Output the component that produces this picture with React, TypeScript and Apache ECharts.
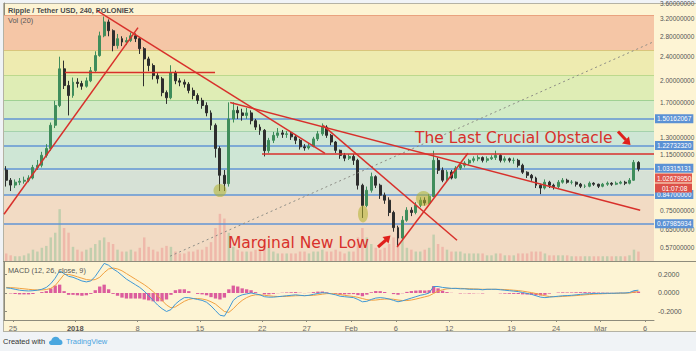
import React, { useEffect, useRef } from "react";
import * as echarts from "echarts";

// ---------- data (12-hour slots from 24 Dec 2017) ----------
const SLOT_COUNT = 146;
const slots = Array.from({ length: SLOT_COUNT }, (_, i) => String(i));

// [open, close, low, high]
const candles: number[][] = [
  [1.02,0.944,0.90,1.05],[0.944,0.91,0.87,0.96],[0.91,0.93,0.89,0.95],[0.93,0.937,0.91,0.96],[0.937,0.944,0.92,0.97],
  [0.944,0.96,0.93,0.98],[0.96,1.04,0.95,1.06],[1.04,1.057,1.02,1.10],[1.057,1.14,1.04,1.17],[1.14,1.20,1.12,1.24],
  [1.20,1.43,1.18,1.46],[1.43,1.66,1.40,1.72],[1.66,2.19,1.64,2.40],[2.19,1.93,1.88,2.33],[1.93,1.79,1.54,2.00],
  [1.79,1.98,1.76,2.05],[1.98,1.96,1.90,2.04],[1.96,1.92,1.87,2.00],[1.92,2.00,1.90,2.05],[2.00,2.16,1.98,2.22],
  [2.16,2.42,2.14,2.50],[2.42,2.81,2.40,2.90],[2.81,3.12,2.78,3.25],[3.12,2.92,2.80,3.18],[2.92,2.61,2.50,2.95],
  [2.61,2.75,2.55,2.85],[2.75,2.68,2.60,2.80],[2.68,2.71,2.62,2.78],[2.71,2.81,2.68,2.88],[2.81,2.75,2.68,2.86],
  [2.75,2.55,2.45,2.78],[2.55,2.36,1.92,2.58],[2.36,2.245,2.15,2.40],[2.245,2.08,2.02,2.28],[2.08,2.03,1.96,2.12],
  [2.03,1.83,1.78,2.06],[1.83,1.76,1.68,1.86],[1.76,2.13,1.74,2.25],[2.13,2.00,1.95,2.16],[2.00,1.98,1.92,2.04],
  [1.98,1.95,1.90,2.02],[1.95,1.86,1.82,1.98],[1.86,1.79,1.74,1.90],[1.79,1.725,1.68,1.82],[1.725,1.66,1.62,1.76],
  [1.66,1.57,1.53,1.70],[1.57,1.43,1.38,1.60],[1.43,1.20,1.12,1.45],[1.20,0.98,0.87,1.22],[0.98,0.92,0.87,1.02],
  [0.92,1.50,0.90,1.70],[1.50,1.60,1.46,1.70],[1.60,1.57,1.50,1.65],[1.57,1.54,1.48,1.62],[1.54,1.57,1.50,1.63],
  [1.57,1.48,1.44,1.60],[1.48,1.41,1.38,1.50],[1.41,1.376,1.33,1.44],[1.376,1.18,1.13,1.39],[1.18,1.276,1.16,1.30],
  [1.276,1.325,1.25,1.36],[1.325,1.35,1.30,1.40],[1.35,1.335,1.30,1.38],[1.335,1.34,1.30,1.37],[1.34,1.31,1.28,1.36],
  [1.31,1.276,1.24,1.33],[1.276,1.215,1.19,1.29],[1.215,1.205,1.18,1.24],[1.205,1.22,1.19,1.25],[1.22,1.29,1.21,1.31],
  [1.29,1.34,1.27,1.37],[1.34,1.41,1.32,1.45],[1.41,1.325,1.30,1.43],[1.325,1.26,1.23,1.34],[1.26,1.183,1.16,1.27],
  [1.183,1.139,1.11,1.19],[1.139,1.115,1.09,1.16],[1.115,1.13,1.10,1.15],[1.13,1.097,1.06,1.15],[1.097,0.909,0.88,1.11],
  [0.909,0.78,0.71,0.92],[0.78,0.875,0.77,0.90],[0.875,0.97,0.86,1.00],[0.97,0.909,0.89,0.98],[0.909,0.843,0.82,0.92],
  [0.843,0.812,0.79,0.86],[0.812,0.74,0.72,0.83],[0.74,0.66,0.64,0.75],[0.66,0.61,0.57,0.67],[0.61,0.698,0.60,0.72],
  [0.698,0.753,0.69,0.77],[0.753,0.74,0.72,0.77],[0.74,0.782,0.73,0.80],[0.782,0.812,0.77,0.83],[0.812,0.795,0.78,0.83],
  [0.795,0.835,0.79,0.85],[0.835,1.097,0.83,1.18],[1.097,1.018,0.99,1.12],[1.018,0.944,0.93,1.04],[0.944,1.005,0.935,1.02],
  [1.005,0.96,0.95,1.02],[0.96,1.035,0.955,1.05],[1.035,1.057,1.02,1.07],[1.057,1.075,1.04,1.09],[1.075,1.097,1.06,1.11],
  [1.097,1.11,1.08,1.13],[1.11,1.12,1.09,1.14],[1.12,1.097,1.08,1.13],[1.097,1.11,1.08,1.13],[1.11,1.12,1.10,1.14],
  [1.12,1.139,1.10,1.18],[1.139,1.097,1.08,1.15],[1.097,1.11,1.08,1.13],[1.11,1.097,1.08,1.12],[1.097,1.097,1.07,1.12],
  [1.097,1.057,1.04,1.11],[1.057,1.003,0.99,1.07],[1.003,0.98,0.96,1.01],[0.98,0.96,0.94,0.99],[0.96,0.909,0.89,0.97],
  [0.909,0.89,0.85,0.92],[0.89,0.93,0.88,0.95],[0.93,0.909,0.89,0.94],[0.909,0.90,0.88,0.92],[0.90,0.93,0.89,0.945],
  [0.93,0.944,0.92,0.96],[0.944,0.93,0.92,0.955],[0.93,0.93,0.915,0.945],[0.93,0.916,0.90,0.935],[0.916,0.902,0.89,0.925],
  [0.902,0.902,0.89,0.915],[0.902,0.923,0.895,0.935],[0.923,0.916,0.905,0.93],[0.916,0.902,0.89,0.92],[0.902,0.916,0.895,0.925],
  [0.916,0.923,0.905,0.935],[0.923,0.916,0.905,0.93],[0.916,0.923,0.91,0.935],[0.923,0.93,0.915,0.94],[0.93,0.923,0.91,0.94],
  [0.923,0.944,0.915,0.96],[0.944,1.08,0.94,1.10],[1.08,1.027,1.01,1.09],
];

const volumes = [
  8,6,5,5,6,8,12,10,14,16, 25,30,55,35,30,15,12,10,12,14, 18,22,25,20,18,12,10,10,12,10,
  14,25,15,12,10,14,16,15,10,8, 8,10,10,12,12,15,20,35,50,45, 30,15,12,10,10,10,12,12,22,14,
  10,8,8,8,8,8,10,10,8,10, 10,12,10,10,12,10,8,10,10,25, 35,25,18,14,12,14,18,25,30,22,
  14,12,10,10,12,14,28,18,15,12, 10,10,10,8,8,8,8,8,6,6, 8,8,6,6,6,8,8,8,10,10,
  10,8,6,6,6,6,6,5,5,5, 5,5,5,5,5,5,5,5,5,5, 6,12,10,
];

const macdLine = [
  0.055,0.05,0.04,0.03,0.025,0.022,0.025,0.03,0.04,0.06, 0.1,0.16,0.24,0.21,0.18,0.17,0.15,0.13,0.12,0.13,
  0.18,0.25,0.32,0.30,0.26,0.23,0.19,0.15,0.12,0.09, 0.06,0.02,-0.03,-0.08,-0.13,-0.17,-0.20,-0.18,-0.12,-0.08,
  -0.05,-0.05,-0.06,-0.07,-0.08,-0.10,-0.14,-0.19,-0.24,-0.25, -0.17,-0.08,-0.04,-0.02,-0.01,0.0,-0.01,-0.02,-0.04,-0.045,
  -0.045,-0.04,-0.035,-0.03,-0.025,-0.02,-0.025,-0.03,-0.025,-0.015, -0.005,0.003,0.0,-0.01,-0.02,-0.035,-0.04,-0.045,-0.05,-0.07,
  -0.095,-0.09,-0.07,-0.055,-0.05,-0.055,-0.065,-0.08,-0.095,-0.085, -0.07,-0.055,-0.04,-0.025,-0.015,0.0,0.07,0.07,0.06,0.055,
  0.05,0.05,0.045,0.045,0.04,0.04,0.04,0.035,0.04,0.04, 0.04,0.035,0.03,0.025,0.02,0.015,0.005,-0.005,-0.015,-0.03,
  -0.045,-0.05,-0.045,-0.04,-0.035,-0.03,-0.028,-0.025,-0.02,-0.015, -0.01,-0.008,-0.005,-0.005,-0.004,-0.003,-0.003,-0.002,0.0,0.0,
  0.005,0.025,0.03,
];

const signalLine = [
  0.06,0.058,0.055,0.05,0.045,0.04,0.035,0.033,0.033,0.037, 0.05,0.08,0.14,0.20,0.20,0.19,0.175,0.16,0.145,0.14,
  0.145,0.17,0.22,0.26,0.27,0.26,0.24,0.21,0.18,0.15, 0.12,0.09,0.055,0.015,-0.03,-0.08,-0.13,-0.16,-0.15,-0.12,
  -0.09,-0.07,-0.06,-0.06,-0.065,-0.075,-0.095,-0.12,-0.16,-0.20, -0.21,-0.17,-0.12,-0.08,-0.05,-0.03,-0.02,-0.02,-0.025,-0.03,
  -0.035,-0.038,-0.038,-0.036,-0.033,-0.03,-0.028,-0.028,-0.027,-0.025, -0.02,-0.013,-0.007,-0.006,-0.01,-0.017,-0.025,-0.032,-0.038,-0.047,
  -0.06,-0.072,-0.078,-0.076,-0.07,-0.066,-0.065,-0.068,-0.076,-0.082, -0.082,-0.076,-0.066,-0.054,-0.042,-0.03,-0.005,0.02,0.035,0.045,
  0.048,0.05,0.05,0.048,0.046,0.044,0.042,0.04,0.04,0.04, 0.04,0.039,0.037,0.034,0.03,0.026,0.02,0.012,0.004,-0.006,
  -0.018,-0.03,-0.038,-0.04,-0.04,-0.037,-0.034,-0.031,-0.028,-0.024, -0.02,-0.016,-0.012,-0.01,-0.008,-0.006,-0.005,-0.004,-0.003,-0.002,
  0.0,0.008,0.015,
];

const histogram = [
  0.0,-0.005,-0.01,-0.015,-0.015,-0.015,-0.01,0.0,0.01,0.02, 0.05,0.08,0.09,0.02,-0.02,-0.02,-0.025,-0.03,-0.025,-0.01,
  0.03,0.07,0.09,0.04,-0.01,-0.03,-0.05,-0.06,-0.06,-0.06, -0.06,-0.07,-0.08,-0.09,-0.09,-0.09,-0.07,-0.02,0.03,0.04,
  0.04,0.02,0.0,-0.01,-0.015,-0.025,-0.045,-0.06,-0.07,-0.05, 0.04,0.08,0.07,0.05,0.04,0.03,0.01,0.0,-0.015,-0.015,
  -0.01,-0.002,0.003,0.006,0.008,0.01,0.003,-0.002,0.002,0.01, 0.015,0.016,0.007,-0.004,-0.01,-0.018,-0.015,-0.013,-0.012,-0.023,
  -0.035,-0.018,0.008,0.021,0.02,0.011,0.0,-0.012,-0.019,-0.003, 0.012,0.021,0.026,0.029,0.027,0.03,0.075,0.05,0.025,0.01,
  0.002,0.0,-0.005,-0.003,-0.006,-0.004,-0.002,-0.005,0.0,0.0, 0.0,-0.004,-0.007,-0.009,-0.01,-0.011,-0.015,-0.017,-0.019,-0.024,
  -0.027,-0.02,-0.007,0.0,0.005,0.007,0.006,0.006,0.008,0.009, 0.01,0.008,0.007,0.005,0.004,0.003,0.002,0.002,0.003,0.002,
  0.005,0.017,0.015,
];

const timeTickSlots = [2, 16, 30, 44, 58, 68, 78, 88, 100, 114, 124, 134, 144];
const timeTickLabels = ["25", "2018", "8", "15", "22", "27", "Feb", "6", "12", "19", "24", "Mar", "6"];
const priceTicks = [3.6, 3.2, 2.8, 2.4, 2.0, 1.7, 1.3, 1.15, 0.75, 0.65, 0.57];
const macdTicks = [0.2, 0, -0.2];
const horizontalLevels = [1.50162067, 1.2273232, 1.03315131, 0.847, 0.67985934];
const fibLevels = [3.27, 2.514, 2.082, 1.725, 1.366, 1.018, 0.843, 0.513];
const trendLines = [
  [[0, 0.73], [30.1, 2.99]],
  [[20.9, 3.4], [72.1, 1.157]],
  [[50.8, 1.699], [142.9, 0.753]],
  [[71.65, 1.429], [101.75, 0.6]],
  [[88.3, 0.57], [104.2, 1.157]],
];
const resistanceLines = [
  [[13.7, 2.13], [47.4, 2.13]],
  [[57.95, 1.15], [146, 1.15]],
];
const dottedLine = [[37.3, 0.532], [146, 2.69]];
const lastPrice = "1.02679950";
const countdown = "01:07:08";

// ---------- styles ----------
const fibColors = ["#f5c6a6", "#eeebb0", "#dfedb5", "#d3ebc6", "#cee6d5", "#d6e1d6", "#f2dbc4"];
const fibLineColors = ["#e9a27f", "#d9c57c", "#bcd98d", "#9fd194", "#a5d2ad"];
const upColor = "#3f8d5b";
const downColor = "#2e2e2e";
const red = "#d8302b";

const logoPath =
  "M3 12 C1.2 12 0 10.6 0 9 C0 7.3 1.3 6 3 6 C3.6 3 6 1 9 1 C11.5 1 13.6 2.6 14.3 4.8 C16.5 5 18 6.8 18 9 C18 10.7 16.6 12 15 12 Z";

export default function App() {
  const ref = useRef<HTMLDivElement>(null);

  useEffect(() => {
    if (!ref.current) return;
    try {
      echarts.graphic.registerShape("tvlogo", echarts.graphic.extendPath(logoPath, {}) as any);
    } catch (e) {}
    const chart = echarts.init(ref.current, null, { renderer: "svg" });

    const series: any[] = [];

    // fib bands + level lines
    series.push({
      type: "line",
      xAxisIndex: 1,
      yAxisIndex: 0,
      data: [],
      z: 1,
      silent: true,
      markArea: {
        silent: true,
        itemStyle: { opacity: 1 },
        data: fibColors.map((c, k) => [
          { yAxis: fibLevels[k], itemStyle: { color: c, opacity: 1 } },
          { yAxis: fibLevels[k + 1] },
        ]),
      },
      markLine: {
        silent: true,
        symbol: "none",
        precision: 8,
        label: { show: false },
        data: fibLineColors.map((c, k) => ({
          yAxis: fibLevels[k],
          lineStyle: { color: c, width: 1, type: "solid" },
        })),
      },
    });

    // price tick labels
    series.push({
      type: "line",
      xAxisIndex: 1,
      yAxisIndex: 0,
      data: [],
      z: 3,
      silent: true,
      markLine: {
        silent: true,
        symbol: "none",
        precision: 8,
        lineStyle: { color: "rgba(0,0,0,0)", width: 1 },
        label: {
          show: true,
          position: "end",
          distance: 6,
          color: "#555",
          fontSize: 6.5,
          fontFamily: "Liberation Sans",
          formatter: (p: any) => Number(p.value).toFixed(8),
        },
        data: priceTicks.map((v) => ({ yAxis: v })),
      },
    });

    // blue horizontal levels
    series.push({
      type: "line",
      xAxisIndex: 1,
      yAxisIndex: 0,
      data: [],
      z: 4,
      silent: true,
      markLine: {
        silent: true,
        symbol: "none",
        precision: 8,
        lineStyle: { color: "#6294d4", width: 1.6, type: "solid" },
        label: {
          show: true,
          position: "end",
          distance: 1,
          color: "#fff",
          backgroundColor: "#5b91d4",
          padding: [1, 2, 1, 2],
          fontSize: 6.5,
          fontFamily: "Liberation Sans",
          formatter: (p: any) => Number(p.value).toFixed(8),
        },
        data: horizontalLevels.map((v) => ({ yAxis: v })),
      },
    });

    // volume
    series.push({
      type: "bar",
      xAxisIndex: 2,
      yAxisIndex: 1,
      data: volumes,
      barWidth: "55%",
      z: 3,
      silent: true,
      itemStyle: {
        color: (p: any) =>
          candles[p.dataIndex] && candles[p.dataIndex][1] >= candles[p.dataIndex][0]
            ? "rgba(83,175,120,0.3)"
            : "rgba(230,80,90,0.25)",
      },
    });

    // candles
    series.push({
      type: "candlestick",
      xAxisIndex: 0,
      yAxisIndex: 0,
      data: candles,
      barWidth: "55%",
      z: 5,
      silent: true,
      itemStyle: {
        color: upColor,
        color0: downColor,
        borderColor: upColor,
        borderColor0: downColor,
        borderWidth: 1,
      },
    });

    // dotted line
    series.push({
      type: "line",
      xAxisIndex: 1,
      yAxisIndex: 0,
      data: dottedLine,
      symbol: "none",
      z: 6,
      silent: true,
      lineStyle: { color: "#8d8d86", width: 1, type: [2, 3] },
    });

    // trend & resistance lines
    [...trendLines, ...resistanceLines].forEach((ln) => {
      series.push({
        type: "line",
        xAxisIndex: 1,
        yAxisIndex: 0,
        data: ln,
        symbol: "none",
        z: 8,
        silent: true,
        lineStyle: { color: red, width: 1.5 },
      });
    });

    // MACD
    series.push({
      type: "bar",
      xAxisIndex: 3,
      yAxisIndex: 2,
      data: histogram,
      barWidth: "75%",
      silent: true,
      itemStyle: { color: "#dc5c9d" },
    });
    series.push({
      type: "line",
      xAxisIndex: 3,
      yAxisIndex: 2,
      data: signalLine,
      symbol: "none",
      silent: true,
      lineStyle: { color: "#f0a040", width: 1 },
    });
    series.push({
      type: "line",
      xAxisIndex: 3,
      yAxisIndex: 2,
      data: macdLine,
      symbol: "none",
      silent: true,
      lineStyle: { color: "#3f98d6", width: 1 },
    });

    const axisColor = "#8e8c7c";

    const option: any = {
      animation: false,
      backgroundColor: "transparent",
      grid: [
        { left: 4, top: 3, width: 650, height: 258 },
        { left: 4, top: 195, width: 650, height: 66 },
        { left: 4, top: 262, width: 650, height: 58 },
      ],
      xAxis: [
        { type: "category", gridIndex: 0, data: slots, show: false, position: "bottom" },
        { type: "value", gridIndex: 0, min: 0, max: SLOT_COUNT, show: false, position: "top" },
        { type: "category", gridIndex: 1, data: slots, show: false },
        { type: "category", gridIndex: 2, data: slots, show: false, position: "top" },
        {
          type: "value",
          gridIndex: 2,
          position: "bottom",
          min: 0,
          max: SLOT_COUNT,
          axisLine: { show: true, lineStyle: { color: axisColor } },
          axisTick: { show: true, customValues: timeTickSlots, length: 2, lineStyle: { color: axisColor } },
          splitLine: { show: false },
          axisLabel: {
            customValues: timeTickSlots,
            margin: 4,
            fontSize: 7.5,
            color: "#6a6a6a",
            fontFamily: "Liberation Sans",
            formatter: (v: number) => {
              const k = timeTickSlots.indexOf(Math.round(v));
              const t = k >= 0 ? timeTickLabels[k] : "";
              return t === "2018" ? "{b|" + t + "}" : t;
            },
            rich: { b: { fontWeight: "bold", fontSize: 7.5, color: "#555", fontFamily: "Liberation Sans" } },
          },
        },
      ],
      yAxis: [
        {
          type: "log",
          gridIndex: 0,
          min: 0.513,
          max: 3.6,
          position: "right",
          axisLine: { show: true, lineStyle: { color: axisColor } },
          axisTick: { show: false },
          axisLabel: { show: false },
          splitLine: { show: false },
        },
        { type: "value", gridIndex: 1, min: 0, max: 70, show: false },
        {
          type: "value",
          gridIndex: 2,
          min: -0.292,
          max: 0.335,
          position: "right",
          axisLine: { show: true, lineStyle: { color: axisColor } },
          axisTick: { show: true, customValues: macdTicks, length: 3, lineStyle: { color: axisColor } },
          splitLine: { show: false },
          axisLabel: {
            customValues: macdTicks,
            margin: 4,
            fontSize: 7,
            color: "#555",
            fontFamily: "Liberation Sans",
            formatter: (v: number) => v.toFixed(4),
          },
        },
      ],
      series,
      graphic: [
        {
          type: "line",
          shape: { x1: 3, y1: 261.5, x2: 696, y2: 261.5 },
          style: { stroke: axisColor, lineWidth: 1 },
          z: 50,
        },
        {
          type: "text",
          x: 8,
          y: 10.5,
          z: 60,
          style: {
            text: "Ripple / Tether USD, 240, POLONIEX",
            fill: "#4a4a4a",
            fontSize: 7.3,
            fontWeight: "bold",
            fontFamily: "Liberation Sans",
            verticalAlign: "middle",
          },
        },
        {
          type: "text",
          x: 8,
          y: 20.5,
          z: 60,
          style: { text: "Vol (20)", fill: "#555", fontSize: 7.3, fontFamily: "Liberation Sans", verticalAlign: "middle" },
        },
        {
          type: "text",
          x: 8,
          y: 270.5,
          z: 60,
          style: {
            text: "MACD (12, 26, close, 9)",
            fill: "#555",
            fontSize: 7.3,
            fontFamily: "Liberation Sans",
            verticalAlign: "middle",
          },
        },
        // last price labels
        { type: "rect", shape: { x: 655, y: 173.5, width: 37, height: 9 }, style: { fill: "#e0574e" }, z: 60 },
        {
          type: "text",
          x: 657,
          y: 178,
          z: 61,
          style: { text: lastPrice, fill: "#fff", fontSize: 6.5, fontFamily: "Liberation Sans", verticalAlign: "middle" },
        },
        { type: "rect", shape: { x: 655, y: 183.5, width: 37, height: 9 }, style: { fill: "#dc5048" }, z: 60 },
        {
          type: "text",
          x: 662,
          y: 188,
          z: 61,
          style: { text: countdown, fill: "#fff", fontSize: 6.5, fontFamily: "Liberation Sans", verticalAlign: "middle" },
        },
        // highlight circles
        { type: "circle", shape: { cx: 220, cy: 190.5, r: 6.5 }, style: { fill: "rgba(178,178,45,0.55)" }, z: 40 },
        { type: "ellipse", shape: { cx: 363, cy: 214, rx: 5, ry: 8.5 }, style: { fill: "rgba(178,178,45,0.55)" }, z: 40 },
        { type: "circle", shape: { cx: 423.5, cy: 198.5, r: 7.5 }, style: { fill: "rgba(178,178,45,0.55)" }, z: 40 },
        // annotations
        {
          type: "text",
          x: 228,
          y: 243,
          z: 70,
          style: {
            text: "Marginal New Low",
            fill: red,
            fontSize: 15.5,
            fontFamily: "DejaVu Sans",
            verticalAlign: "middle",
          },
        },
        {
          type: "text",
          x: 415,
          y: 138,
          z: 70,
          style: {
            text: "The Last Crucial Obstacle",
            fill: red,
            fontSize: 15.5,
            fontFamily: "DejaVu Sans",
            verticalAlign: "middle",
          },
        },
        {
          type: "line",
          shape: { x1: 378, y1: 247, x2: 386, y2: 240 },
          style: { stroke: "#e0201c", lineWidth: 3 },
          z: 70,
        },
        {
          type: "polygon",
          shape: { points: [[390.5, 235.5], [382.5, 237], [388.5, 243.5]] },
          style: { fill: "#e0201c" },
          z: 70,
        },
        {
          type: "line",
          shape: { x1: 618, y1: 131.5, x2: 626, y2: 140 },
          style: { stroke: "#e0201c", lineWidth: 3 },
          z: 70,
        },
        {
          type: "polygon",
          shape: { points: [[630.5, 145], [622, 143.5], [629, 136.5]] },
          style: { fill: "#e0201c" },
          z: 70,
        },
        // footer
        {
          type: "text",
          x: 3,
          y: 341,
          z: 60,
          style: { text: "Created with", fill: "#333", fontSize: 7.5, fontFamily: "Liberation Sans", verticalAlign: "middle" },
        },
        {
          type: "tvlogo",
          x: 49,
          y: 336,
          scaleX: 0.75,
          scaleY: 0.75,
          z: 60,
          style: { fill: "#4aa7df" },
        },
        {
          type: "text",
          x: 66,
          y: 341,
          z: 60,
          style: { text: "TradingView", fill: "#4aa3df", fontSize: 7.5, fontFamily: "Liberation Sans", verticalAlign: "middle" },
        },
      ],
    };

    chart.setOption(option);
    return () => chart.dispose();
  }, []);

  return (
    <div style={{ position: "fixed", left: 0, top: 0, width: 696, height: 351, background: "#f0f3f6", overflow: "hidden" }}>
      <div
        style={{
          position: "absolute",
          left: 3,
          top: 3,
          width: 694,
          height: 327,
          background: "#fdf4d4",
          border: "1px solid #b4b2a4",
        }}
      />
      <div ref={ref} style={{ position: "absolute", left: 0, top: 0, width: 696, height: 351 }} />
    </div>
  );
}
